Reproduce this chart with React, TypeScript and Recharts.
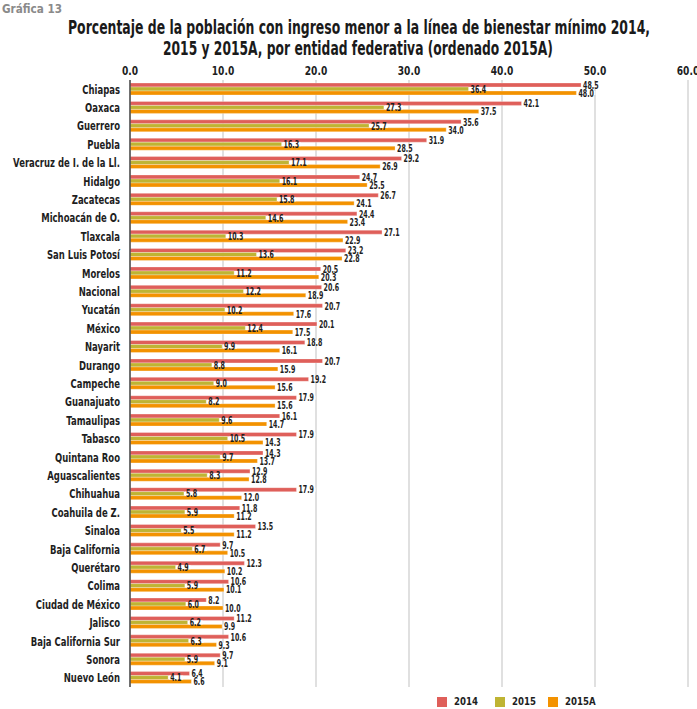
import { BarChart, Bar, XAxis, YAxis, CartesianGrid, LabelList } from 'recharts';

const estados = [
  'Chiapas', 'Oaxaca', 'Guerrero', 'Puebla', 'Veracruz de I. de la Ll.', 'Hidalgo', 'Zacatecas',
  'Michoacán de O.', 'Tlaxcala', 'San Luis Potosí', 'Morelos', 'Nacional', 'Yucatán', 'México',
  'Nayarit', 'Durango', 'Campeche', 'Guanajuato', 'Tamaulipas', 'Tabasco', 'Quintana Roo',
  'Aguascalientes', 'Chihuahua', 'Coahuila de Z.', 'Sinaloa', 'Baja California', 'Querétaro',
  'Colima', 'Ciudad de México', 'Jalisco', 'Baja California Sur', 'Sonora', 'Nuevo León',
];

const v2014 = [
  48.5, 42.1, 35.6, 31.9, 29.2, 24.7, 26.7, 24.4, 27.1, 23.2, 20.5, 20.6, 20.7, 20.1, 18.8, 20.7, 19.2,
  17.9, 16.1, 17.9, 14.3, 12.9, 17.9, 11.8, 13.5, 9.7, 12.3, 10.6, 8.2, 11.2, 10.6, 9.7, 6.4,
];
const v2015 = [
  36.4, 27.3, 25.7, 16.3, 17.1, 16.1, 15.8, 14.6, 10.3, 13.6, 11.2, 12.2, 10.2, 12.4, 9.9, 8.8, 9.0,
  8.2, 9.6, 10.5, 9.7, 8.3, 5.8, 5.9, 5.5, 6.7, 4.9, 5.9, 6.0, 6.2, 6.3, 5.9, 4.1,
];
const v2015A = [
  48.0, 37.5, 34.0, 28.5, 26.9, 25.5, 24.1, 23.4, 22.9, 22.8, 20.3, 18.9, 17.6, 17.5, 16.1, 15.9, 15.6,
  15.6, 14.7, 14.3, 13.7, 12.8, 12.0, 11.2, 11.2, 10.5, 10.2, 10.1, 10.0, 9.9, 9.3, 9.1, 6.6,
];
const xTicks = [0, 10, 20, 30, 40, 50, 60];

const data = estados.map((name, i) => ({ name, a2014: v2014[i], a2015: v2015[i], a2015A: v2015A[i] }));

const series = [
  { key: 'a2014', label: '2014', color: '#df5f5a' },
  { key: 'a2015', label: '2015', color: '#bfb433' },
  { key: 'a2015A', label: '2015A', color: '#f39200' },
];

const FONT = '"DejaVu Sans", sans-serif';
const INK = '#1e1e1e';

function ValueLabel(props: any) {
  const { x, y, width, height, value } = props;
  const txt = Number(value).toFixed(1);
  const tx = Number(x) + Number(width) + 1;
  const cy = Number(y) + Number(height) / 2;
  const w = txt.length * 4 + 2;
  return (
    <g>
      <rect x={tx} y={Number(y)} width={w} height={Number(height)} fill="#fff" />
      <text transform={`translate(${tx + 1},${cy}) scale(0.6,1)`} dy="0.36em" fontFamily={FONT}
        fontWeight="bold" fontSize={10.5} fill={INK}>{txt}</text>
    </g>
  );
}

function StateTick(props: any) {
  const { x, y, payload } = props;
  return (
    <text transform={`translate(${x},${y}) scale(0.68,1)`} dy="0.36em" textAnchor="end"
      fontFamily={FONT} fontWeight="bold" fontSize={12.5} fill={INK}>
      {payload.value}
    </text>
  );
}

function TopTick(props: any) {
  const { x, y, payload } = props;
  return (
    <text transform={`translate(${x},${y}) scale(0.76,1)`} textAnchor="middle"
      fontFamily={FONT} fontWeight="bold" fontSize={12} fill={INK}>
      {Number(payload.value).toFixed(1)}
    </text>
  );
}

function LegendBox() {
  return (
    <div style={{ position: 'absolute', left: 437, top: 695, width: 200, height: 12, fontFamily: FONT, fontWeight: 'bold', fontSize: 11, color: INK }}>
      {series.map((s, i) => (
        <span key={s.key} style={{ position: 'absolute', left: [0, 58, 111][i], top: 0, display: 'flex', alignItems: 'center' }}>
          <span style={{ width: 10, height: 10, background: s.color, display: 'inline-block', marginRight: 7 }} />
          <span style={{ display: 'inline-block', transform: 'scaleX(0.78)', transformOrigin: 'left center' }}>{s.label}</span>
        </span>
      ))}
    </div>
  );
}

export default function App() {
  return (
    <div style={{ position: 'absolute', left: 0, top: 0, width: 697, height: 709, background: '#fff' }}>
      <svg width={697} height={62} style={{ position: 'absolute', left: 0, top: 0 }}>
        <text x={2} y={13} fontFamily={FONT} fontWeight="bold" fontSize={13} fill="#8a8a8a"
          textLength={60} lengthAdjust="spacingAndGlyphs">Gráfica 13</text>
        <text x={68} y={34} fontFamily={FONT} fontWeight="bold" fontSize={19} fill="#1a1a1a"
          textLength={582} lengthAdjust="spacingAndGlyphs">
          Porcentaje de la población con ingreso menor a la línea de bienestar mínimo 2014,
        </text>
        <text x={163} y={55} fontFamily={FONT} fontWeight="bold" fontSize={19} fill="#1a1a1a"
          textLength={390} lengthAdjust="spacingAndGlyphs">
          2015 y 2015A, por entidad federativa (ordenado 2015A)
        </text>
      </svg>
      <div style={{ position: 'absolute', left: 0, top: 0 }}>
        <BarChart width={697} height={709} data={data} layout="vertical"
          margin={{ top: 60, right: 9, bottom: 22, left: 8 }} barGap={0} barCategoryGap={3}>
          <CartesianGrid horizontal={false} stroke="#d6d6d6" strokeWidth={1.5} />
          <XAxis type="number" orientation="top" domain={[0, 60]} ticks={xTicks} height={20}
            axisLine={false} tickLine={false} tickSize={0} tickMargin={5} tick={<TopTick />} />
          <YAxis type="category" dataKey="name" width={122} tick={<StateTick />} tickLine={false} tickSize={0}
            tickMargin={10} axisLine={{ stroke: '#4a4a4a', strokeWidth: 1.5 }} interval={0} />
          {series.map((s) => (
            <Bar key={s.key} dataKey={s.key} name={s.label} fill={s.color} barSize={4}
              stroke="#fff" strokeWidth={0.3} isAnimationActive={false}>
              <LabelList dataKey={s.key} content={<ValueLabel />} />
            </Bar>
          ))}
        </BarChart>
      </div>
      <LegendBox />
    </div>
  );
}
